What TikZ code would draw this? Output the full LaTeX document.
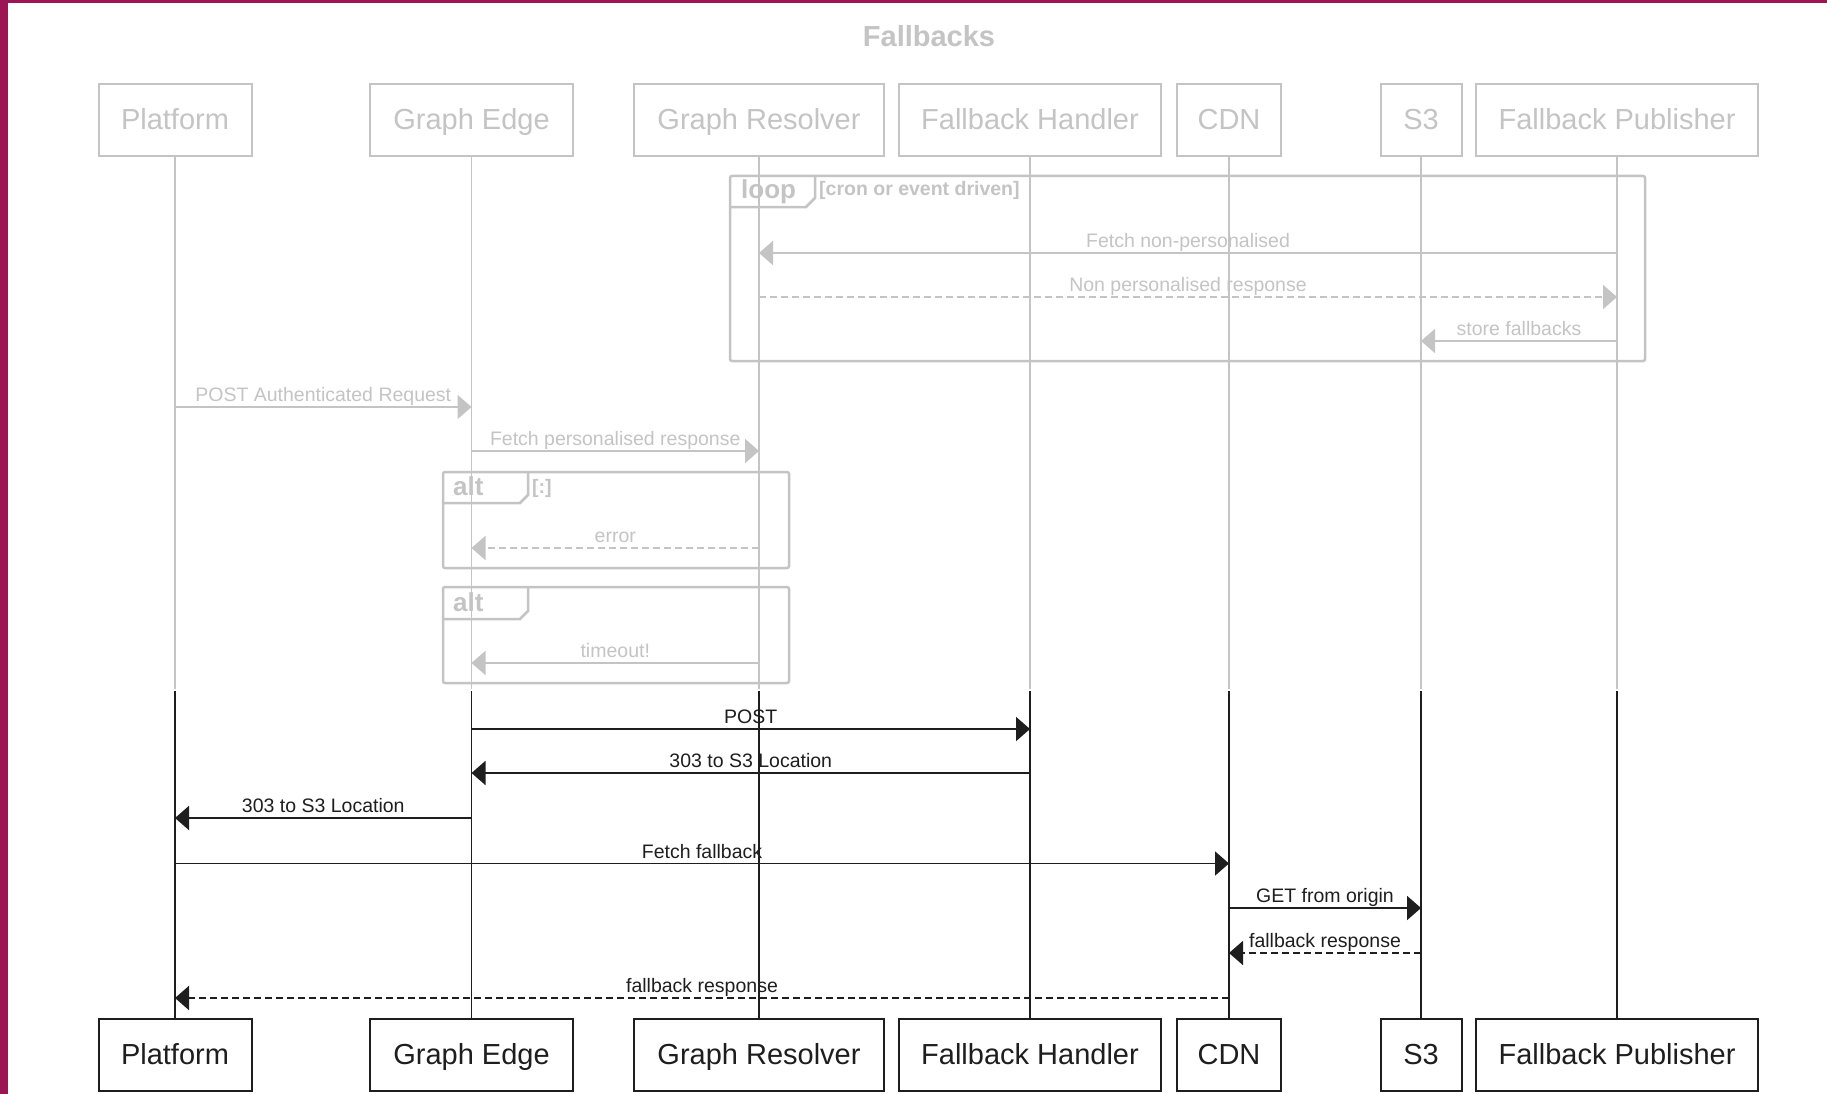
\documentclass[tikz,border=0pt]{standalone}
\usepackage{fontspec}
\setmainfont{Liberation Sans}
\usetikzlibrary{arrows.meta}
\definecolor{lg}{HTML}{C4C4C4}
\definecolor{dk}{HTML}{1E1E1E}
\definecolor{plum}{HTML}{9B1652}
\newcommand{\mymsg}[5]{\draw[#5] (#1 |- 0,#3) -- node[lab]{#4} (#2 |- 0,#3);}
\begin{document}
\begin{tikzpicture}[x=1pt,y=-1pt,
  part/.style={draw,line width=2pt,minimum height=72pt,inner sep=0pt,text height=26pt,text depth=6pt,font=\fontsize{29}{34}\selectfont},
  partg/.style={part,draw=lg,text=lg},
  partb/.style={part,draw=dk,text=dk},
  lifeg/.style={draw=lg,line width=1.8pt},
  lifeb/.style={draw=dk,line width=1.8pt},
  msg/.style={line width=1.8pt,-{Triangle[length=14pt,width=24pt]}},
  msgg/.style={msg,lg},
  msgb/.style={msg,dk},
  dsh/.style={dash pattern=on 7pt off 4pt},
  lab/.style={anchor=base,yshift=5.5pt,inner sep=0pt,font=\fontsize{19.5}{23}\selectfont},
  frm/.style={draw=lg,line width=2.5pt,rounded corners=2pt},
  tabtxt/.style={anchor=base west,inner sep=0pt,text=lg,font=\bfseries\fontsize{26}{30}\selectfont},
  condtxt/.style={anchor=base west,inner sep=0pt,text=lg,font=\bfseries\fontsize{19.5}{23}\selectfont},
  ]
\useasboundingbox (0,0) rectangle (1827,1094);
\fill[white] (0,0) rectangle (1827,1094);
\fill[plum] (0,0) rectangle (8,1094);
\fill[plum] (0,0) rectangle (1827,3);

\node[anchor=base,inner sep=0pt,text=lg,font=\bfseries\fontsize{29}{34}\selectfont] (title) at (929,47) {Fallbacks};

% participants (top)
\node[partg,minimum width=153pt] (pt) at (175,120) {Platform};
\node[partg,minimum width=203pt] (ge) at (471.5,120) {Graph Edge};
\node[partg,minimum width=250pt] (gr) at (759,120) {Graph Resolver};
\node[partg,minimum width=262pt] (fh) at (1030,120) {Fallback Handler};
\node[partg,minimum width=104pt] (cdn) at (1229,120) {CDN};
\node[partg,minimum width=81pt] (s3) at (1421,120) {S3};
\node[partg,minimum width=282pt] (fp) at (1617,120) {Fallback Publisher};
% participants (bottom)
\node[partb,minimum width=153pt] (ptb) at (175,1054.5) {Platform};
\node[partb,minimum width=203pt] (geb) at (471.5,1054.5) {Graph Edge};
\node[partb,minimum width=250pt] (grb) at (759,1054.5) {Graph Resolver};
\node[partb,minimum width=262pt] (fhb) at (1030,1054.5) {Fallback Handler};
\node[partb,minimum width=104pt] (cdnb) at (1229,1054.5) {CDN};
\node[partb,minimum width=81pt] (s3b) at (1421,1054.5) {S3};
\node[partb,minimum width=282pt] (fpb) at (1617,1054.5) {Fallback Publisher};

% lifelines
\foreach \a/\b in {pt/ptb,ge/geb,gr/grb,fh/fhb,cdn/cdnb,s3/s3b,fp/fpb}{
  \draw[lifeg] (\a.south) -- (\a |- 0,689);
  \draw[lifeb] (\a |- 0,691) -- (\b.north);
}

% loop frame
\draw[frm] (730,176) rectangle (1645,361);
\draw[frm,rounded corners=0pt] (730,207) -- (806,207) -- (815,198) -- (815,176);
\node[tabtxt] (looplab) at (741,199) {loop};
\node[condtxt] (loopcond) at (819,196) {[cron or event driven]};

% alt frames
\draw[frm] (443,472) rectangle (789,568);
\draw[frm,rounded corners=0pt] (443,503) -- (520,503) -- (528,495) -- (528,472);
\node[tabtxt] (alt1lab) at (453,495) {alt};
\node[condtxt] (alt1cond) at (532,493) {[:]};
\draw[frm] (443,587) rectangle (789,683);
\draw[frm,rounded corners=0pt] (443,619) -- (520,619) -- (528,611) -- (528,587);
\node[tabtxt] (alt2lab) at (453,611) {alt};

% messages
\mymsg{fp}{gr}{253}{Fetch non-personalised}{msgg}
\mymsg{gr}{fp}{297}{Non personalised response}{msgg,dsh}
\mymsg{fp}{s3}{341}{store fallbacks}{msgg}
\mymsg{pt}{ge}{407}{POST Authenticated Request}{msgg}
\mymsg{ge}{gr}{451}{Fetch personalised response}{msgg}
\mymsg{gr}{ge}{548}{error}{msgg,dsh}
\mymsg{gr}{ge}{663}{timeout!}{msgg}
\mymsg{ge}{fh}{729}{POST}{msgb}
\mymsg{fh}{ge}{773}{303 to S3 Location}{msgb}
\mymsg{ge}{pt}{818}{303 to S3 Location}{msgb}
\mymsg{pt}{cdn}{863.5}{Fetch fallback}{msgb}
\mymsg{cdn}{s3}{908}{GET from origin}{msgb}
\mymsg{s3}{cdn}{953}{fallback response}{msgb,dsh}
\mymsg{cdn}{pt}{998}{fallback response}{msgb,dsh}
\end{tikzpicture}
\end{document}
